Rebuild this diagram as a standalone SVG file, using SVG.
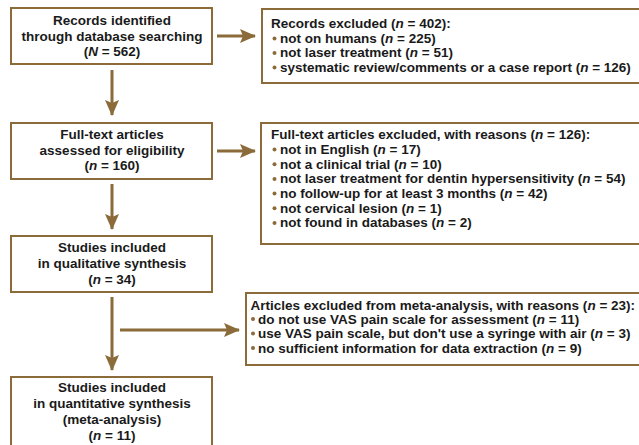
<svg xmlns="http://www.w3.org/2000/svg" width="639" height="445" viewBox="0 0 639 445">
  <defs>
    <style>
      .box { fill: #ffffff; stroke: #8b6b3a; stroke-width: 2; }
      .link { fill: none; stroke: #8b6b3a; stroke-width: 3; }
      .dot { fill: #8b6b3a; }
      .title { font-family: "Liberation Sans", Arial, sans-serif; font-size: 13.5px; font-weight: bold; fill: #1a1a1a; text-anchor: middle; }
      .list { font-family: "Liberation Sans", Arial, sans-serif; font-size: 13.5px; font-weight: bold; fill: #1a1a1a; }
      .i { font-style: italic; }
    </style>
    <marker id="head" viewBox="0 0 16 14" refX="15" refY="7" markerWidth="16" markerHeight="14" markerUnits="userSpaceOnUse" orient="auto">
      <path d="M0,0 L16,7 L0,14 L3,7 Z" fill="#8b6b3a"/>
    </marker>
  </defs>
  <rect width="639" height="445" fill="#ffffff"/>

  <!-- connectors -->
  <g id="connectors">
    <line class="link" x1="217" y1="36" x2="255" y2="36" marker-end="url(#head)"/>
    <line class="link" x1="112" y1="70" x2="112" y2="115" marker-end="url(#head)"/>
    <line class="link" x1="217" y1="151" x2="255" y2="151" marker-end="url(#head)"/>
    <line class="link" x1="112" y1="184" x2="112" y2="229" marker-end="url(#head)"/>
    <line class="link" x1="112" y1="297" x2="112" y2="370" marker-end="url(#head)"/>
    <line class="link" x1="120" y1="330" x2="239" y2="330" marker-end="url(#head)"/>
  </g>

  <!-- main flow -->
  <g id="identified">
    <rect class="box" x="11" y="8" width="201" height="56"/>
    <text class="title" x="112" y="25">Records identified</text>
    <text class="title" x="112" y="40.5">through database searching</text>
    <text class="title" x="112" y="56">(<tspan class="i">N</tspan> = 562)</text>
  </g>

  <g id="assessed">
    <rect class="box" x="11" y="123" width="201" height="56"/>
    <text class="title" x="112" y="138.5">Full-text articles</text>
    <text class="title" x="112" y="154.5">assessed for eligibility</text>
    <text class="title" x="112" y="170">(<tspan class="i">n</tspan> = 160)</text>
  </g>

  <g id="qualitative">
    <rect class="box" x="11" y="236" width="201" height="56"/>
    <text class="title" x="112" y="252">Studies included</text>
    <text class="title" x="112" y="268">in qualitative synthesis</text>
    <text class="title" x="112" y="284">(<tspan class="i">n</tspan> = 34)</text>
  </g>

  <g id="quantitative">
    <rect class="box" x="11" y="377" width="201" height="80"/>
    <text class="title" x="112" y="392">Studies included</text>
    <text class="title" x="112" y="408">in quantitative synthesis</text>
    <text class="title" x="112" y="424">(meta-analysis)</text>
    <text class="title" x="112" y="440">(<tspan class="i">n</tspan> = 11)</text>
  </g>

  <!-- exclusion boxes -->
  <g id="records-excluded">
    <rect class="box" x="262" y="9" width="400" height="74"/>
    <text class="list" x="271" y="28.3">Records excluded (<tspan class="i">n</tspan> = 402):</text>
    <circle class="dot" cx="274.5" cy="38.5" r="2"/>
    <text class="list" x="280" y="42.8">not on humans (<tspan class="i">n</tspan> = 225)</text>
    <circle class="dot" cx="274.5" cy="53" r="2"/>
    <text class="list" x="280" y="57.3">not laser treatment (<tspan class="i">n</tspan> = 51)</text>
    <circle class="dot" cx="274.5" cy="67.5" r="2"/>
    <text class="list" x="280" y="71.8">systematic review/comments or a case report (<tspan class="i">n</tspan> = 126)</text>
  </g>

  <g id="fulltext-excluded">
    <rect class="box" x="261" y="123" width="400" height="121"/>
    <text class="list" x="271" y="139">Full-text articles excluded, with reasons (<tspan class="i">n</tspan> = 126):</text>
    <circle class="dot" cx="274.5" cy="149.5" r="2"/>
    <text class="list" x="280" y="153.8">not in English (<tspan class="i">n</tspan> = 17)</text>
    <circle class="dot" cx="274.5" cy="164.2" r="2"/>
    <text class="list" x="280" y="168.5">not a clinical trial (<tspan class="i">n</tspan> = 10)</text>
    <circle class="dot" cx="274.5" cy="178.9" r="2"/>
    <text class="list" x="280" y="183.2">not laser treatment for dentin hypersensitivity (<tspan class="i">n</tspan> = 54)</text>
    <circle class="dot" cx="274.5" cy="193.6" r="2"/>
    <text class="list" x="280" y="197.9">no follow-up for at least 3 months (<tspan class="i">n</tspan> = 42)</text>
    <circle class="dot" cx="274.5" cy="208.3" r="2"/>
    <text class="list" x="280" y="212.6">not cervical lesion (<tspan class="i">n</tspan> = 1)</text>
    <circle class="dot" cx="274.5" cy="223" r="2"/>
    <text class="list" x="280" y="227.3">not found in databases (<tspan class="i">n</tspan> = 2)</text>
  </g>

  <g id="meta-excluded">
    <rect class="box" x="246" y="293" width="420" height="72"/>
    <text class="list" x="250.5" y="310">Articles excluded from meta-analysis, with reasons (<tspan class="i">n</tspan> = 23):</text>
    <circle class="dot" cx="253" cy="319" r="2"/>
    <text class="list" x="258" y="323.5">do not use VAS pain scale for assessment (<tspan class="i">n</tspan> = 11)</text>
    <circle class="dot" cx="253" cy="333.5" r="2"/>
    <text class="list" x="258" y="338">use VAS pain scale, but don't use a syringe with air (<tspan class="i">n</tspan> = 3)</text>
    <circle class="dot" cx="253" cy="348" r="2"/>
    <text class="list" x="258" y="352.5">no sufficient information for data extraction (<tspan class="i">n</tspan> = 9)</text>
  </g>
</svg>
